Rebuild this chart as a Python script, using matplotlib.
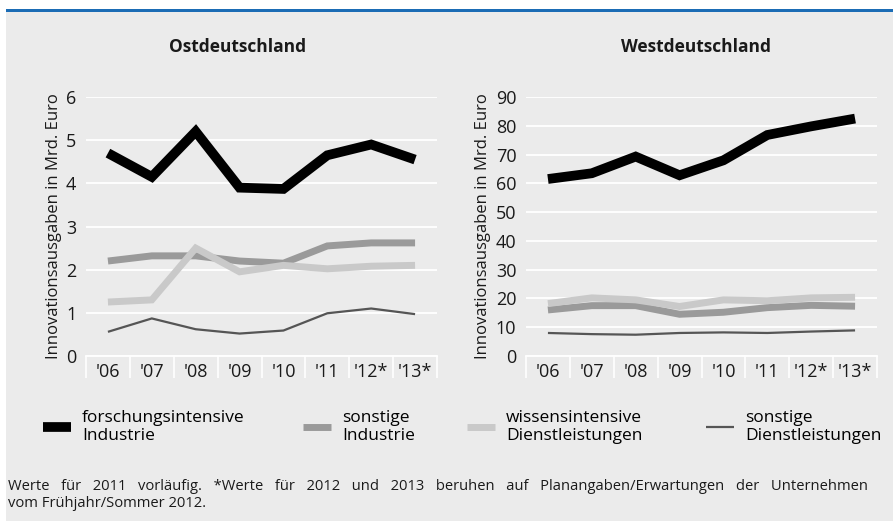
"""
Innovationsausgaben Ost- und Westdeutschland, 2006-2013.
"""

import matplotlib
matplotlib.use("Agg")
import matplotlib.pyplot as plt
from matplotlib.lines import Line2D
from matplotlib.patches import Rectangle

# Data
years = ["'06", "'07", "'08", "'09", "'10", "'11", "'12*", "'13*"]

ost_forschung = [4.7, 4.15, 5.2, 3.9, 3.87, 4.65, 4.9, 4.55]
ost_sonst_ind = [2.2, 2.32, 2.32, 2.2, 2.15, 2.55, 2.62, 2.62]
ost_wissen_dl = [1.25, 1.3, 2.5, 1.95, 2.1, 2.02, 2.08, 2.1]
ost_sonst_dl = [0.56, 0.87, 0.62, 0.52, 0.59, 0.99, 1.1, 0.97]

west_forschung = [61.5, 63.5, 69.3, 62.8, 68.0, 76.8, 79.8, 82.5]
west_sonst_ind = [16.0, 17.5, 17.5, 14.5, 15.2, 16.8, 17.6, 17.3]
west_wissen_dl = [18.2, 20.2, 19.5, 17.2, 19.5, 19.2, 20.2, 20.4]
west_sonst_dl = [8.0, 7.6, 7.4, 8.0, 8.2, 8.0, 8.5, 8.9]

series_labels = [
    "forschungsintensive\nIndustrie",
    "sonstige\nIndustrie",
    "wissensintensive\nDienstleistungen",
    "sonstige\nDienstleistungen",
]
colors = ["#000000", "#9a9a9a", "#c9c9c9", "#555555"]
widths = [7.0, 5.0, 5.0, 1.6]

BG = "#ebebeb"
plt.rcParams["font.family"] = ["Open Sans", "DejaVu Sans"]

fig = plt.figure(figsize=(8.93, 5.21), dpi=100)
fig.patch.set_facecolor("white")
fig.patches.append(Rectangle((6 / 893, 0), 1, 1 - 12 / 521, transform=fig.transFigure,
                             facecolor=BG, edgecolor="none", zorder=-10))
fig.patches.append(Rectangle((6 / 893, 1 - 12 / 521), 1, 3 / 521, transform=fig.transFigure,
                             facecolor="#1b6cb5", edgecolor="none", zorder=-9))


def draw_panel(rect, series, ymax, ystep, title, title_x):
    ax = fig.add_axes(rect)
    ax.set_facecolor(BG)
    x = list(range(len(years)))
    for vals, c, lw in zip(series, colors, widths):
        ax.plot(x, vals, color=c, linewidth=lw, solid_capstyle="butt",
                solid_joinstyle="miter", zorder=3)
    ax.set_xlim(-0.5, len(years) - 0.5)
    ax.set_ylim(0, ymax)
    ax.set_yticks(range(0, ymax + 1, ystep))
    ax.set_xticks(x)
    ax.set_xticklabels(years)
    ax.set_xticks([i - 0.5 for i in range(len(years) + 1)], minor=True)
    ax.tick_params(axis="x", which="major", length=0, pad=5, labelsize=13,
                   colors="#1a1a1a")
    ax.tick_params(axis="x", which="minor", length=16, width=1.2, color="white",
                   direction="out")
    ax.tick_params(axis="y", length=0, pad=7, labelsize=13, colors="#1a1a1a")
    ax.grid(axis="y", color="white", linewidth=1.3, zorder=0)
    ax.set_axisbelow(True)
    for side in ["left", "right", "top"]:
        ax.spines[side].set_visible(False)
    ax.spines["bottom"].set_color("white")
    ax.spines["bottom"].set_linewidth(1.3)
    ax.set_ylabel("Innovationsausgaben in Mrd. Euro", fontsize=12, labelpad=3,
                  color="#1a1a1a")
    fig.text(title_x, 1 - 47 / 521, title, ha="center", va="center",
             fontsize=12.5, fontweight="bold", color="#1a1a1a")
    return ax


bottom = (521 - 356) / 521
height = (356 - 97) / 521
draw_panel([86 / 893, bottom, 351 / 893, height],
           [ost_forschung, ost_sonst_ind, ost_wissen_dl, ost_sonst_dl],
           6, 1, "Ostdeutschland", 238 / 893)
draw_panel([526 / 893, bottom, 351 / 893, height],
           [west_forschung, west_sonst_ind, west_wissen_dl, west_sonst_dl],
           90, 10, "Westdeutschland", 696 / 893)

# Legend: one entry per column, anchored at the handle positions
handle_x = [43, 303, 467, 706]
for label, c, lw, hx in zip(series_labels, colors, widths, handle_x):
    h = Line2D([], [], color=c, linewidth=lw, solid_capstyle="butt")
    fig.legend([h], [label], loc="center left",
               bbox_to_anchor=(hx / 893, 1 - 427 / 521), frameon=False,
               borderpad=0, borderaxespad=0, handlelength=1.6,
               handletextpad=0.65, labelspacing=0, fontsize=12.5)

# wide word spacing to imitate the justified first line
words = ("Werte für 2011 vorläufig. *Werte für 2012 und 2013 beruhen auf "
         "Planangaben/Erwartungen der Unternehmen").split()
note = "   ".join(words) + "\nvom Frühjahr/Sommer 2012."
fig.text(8 / 893, 1 - 495 / 521, note, ha="left", va="center",
         fontsize=10.6, color="#1a1a1a", linespacing=1.15)

fig.savefig("out.png", dpi=100, facecolor=fig.get_facecolor())
